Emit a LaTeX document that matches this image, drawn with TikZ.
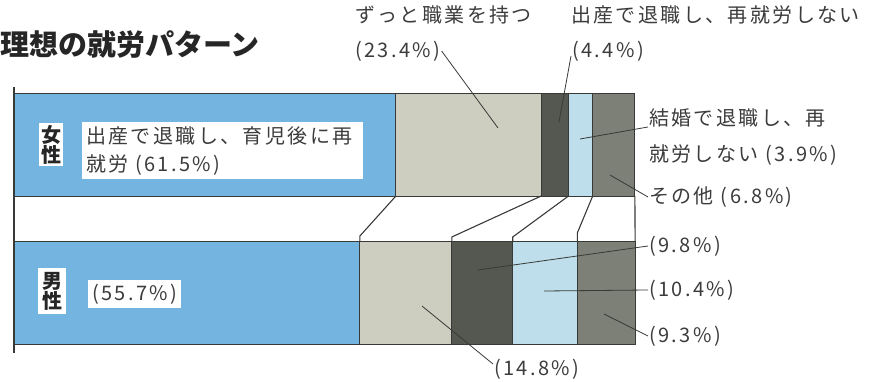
\documentclass[tikz,border=0pt]{standalone}
\usepackage{fontspec}
\setmainfont{Noto Sans CJK JP}[LetterSpace=12]
\newfontfamily\jptitle{Noto Sans CJK JP}
\usepackage{tikz}
\usetikzlibrary{positioning}
\definecolor{jbblue}{RGB}{115,180,225}
\definecolor{jbsand}{RGB}{205,205,192}
\definecolor{jbdark}{RGB}{85,88,80}
\definecolor{jbsky}{RGB}{190,222,235}
\definecolor{jbgrey}{RGB}{125,128,118}
\definecolor{jbline}{RGB}{55,58,55}
\definecolor{jbtext}{RGB}{60,60,60}
\tikzstyle{seg} = [rectangle, draw=jbline, line width=0.9pt, inner sep=0pt, outer sep=0pt, minimum height=103pt, anchor=north west]
\tikzstyle{joint} = [draw=jbline, line width=1.1pt]
\tikzstyle{leader} = [draw=jbline, line width=0.8pt]
\tikzstyle{axisline} = [draw=jbline, line width=1.8pt]
\tikzstyle{lbl} = [inner sep=1pt, text=jbtext, font=\fontsize{20}{36}\selectfont, align=left]
\tikzstyle{tag} = [fill=white, inner sep=2pt, text=black!85, font=\bfseries\fontsize{20}{20}\selectfont, align=center]
\tikzstyle{tagbox} = [fill=white, inner sep=4pt, text=jbtext, font=\fontsize{20}{28}\selectfont, align=left]

\begin{document}
\begin{tikzpicture}[x=1pt, y=-1pt]
\useasboundingbox (0,0) rectangle (873,382);

% Title
\node[lbl, anchor=west, inner sep=0pt, text=black!85, font=\jptitle\bfseries\fontsize{29}{32}\selectfont] (title) at (0,45) {理想の就労パターン};

% Female bar
\node[seg, fill=jbblue, minimum width=381.9pt] (f1) at (14,93) {};
\node[seg, fill=jbsand, minimum width=145.3pt] (f2) at (f1.north east) {};
\node[seg, fill=jbdark, minimum width=27.3pt] (f3) at (f2.north east) {};
\node[seg, fill=jbsky, minimum width=24.2pt] (f4) at (f3.north east) {};
\node[seg, fill=jbgrey, minimum width=42.2pt] (f5) at (f4.north east) {};

% Male bar
\node[seg, fill=jbblue, minimum width=345.9pt] (m1) at (14,241) {};
\node[seg, fill=jbsand, minimum width=91.9pt] (m2) at (m1.north east) {};
\node[seg, fill=jbdark, minimum width=60.9pt] (m3) at (m2.north east) {};
\node[seg, fill=jbsky, minimum width=64.6pt] (m4) at (m3.north east) {};
\node[seg, fill=jbgrey, minimum width=57.8pt] (m5) at (m4.north east) {};

% Joints between the bars
\draw[joint] (f1.south east) -- ([yshift=5pt]m1.north east) -- (m1.north east);
\draw[joint] (f2.south east) -- ([yshift=4pt]m2.north east) -- (m2.north east);
\draw[joint] (f3.south east) -- ([yshift=4pt]m3.north east) -- (m3.north east);
\draw[joint] (f4.south east) -- ([yshift=8pt]m4.north east) -- (m4.north east);
\draw[joint] (f5.south east) -- (m5.north east);

% Axis
\draw[axisline] (14,87) -- (14,353);

% Tags and boxed texts
\node[tag] (tagf) at (51,145) {女\\性};
\node[tagbox, anchor=north west, text width=273pt, minimum height=55pt] (txtf) at (82,122) {出産で退職し、育児後に再\\就労 (61.5\%)};
\node[tag, inner sep=4pt] (tagm) at (52,291) {男\\性};
\node[tagbox, anchor=west] (txtm) at (88,294) {(55.7\%)};

% Labels
\node[lbl, anchor=west] (k234) at (354,15) {ずっと職業を持つ};
\node[lbl, anchor=west] (p234) at (354,51) {(23.4\%)};
\node[lbl, anchor=west] (k44) at (570,15) {出産で退職し、再就労しない};
\node[lbl, anchor=west] (p44) at (571,51) {(4.4\%)};
\node[lbl, anchor=west] (p39) at (648,137) {結婚で退職し、再\\就労しない (3.9\%)};
\node[lbl, anchor=west] (p68) at (648,197) {その他 (6.8\%)};
\node[lbl, anchor=west] (p98) at (648,246) {(9.8\%)};
\node[lbl, anchor=west] (p104) at (648,290) {(10.4\%)};
\node[lbl, anchor=west] (p93) at (648,336) {(9.3\%)};
\node[lbl, anchor=west] (p148) at (493,369) {(14.8\%)};

% Leader ends
\coordinate (c234) at (498,128);
\coordinate (c44) at (559,122);
\coordinate (c39) at (580,139);
\coordinate (c68) at (610,175);
\coordinate (c98) at (478,270);
\coordinate (c104) at (544,291);
\coordinate (c93) at (604,314);
\coordinate (c148) at (422,306);

% Leaders
\draw[leader] (p234.east) -- (c234);
\draw[leader] ([yshift=-5pt]p44.west) -- (c44);
\draw[leader] ([yshift=10pt]p39.west) -- (c39);
\draw[leader] (p68.west) -- (c68);
\draw[leader] (p98.west) -- (c98);
\draw[leader] (p104.west) -- (c104);
\draw[leader] (p93.west) -- (c93);
\draw[leader] ([yshift=5pt]p148.west) -- (c148);
\end{tikzpicture}
\end{document}
